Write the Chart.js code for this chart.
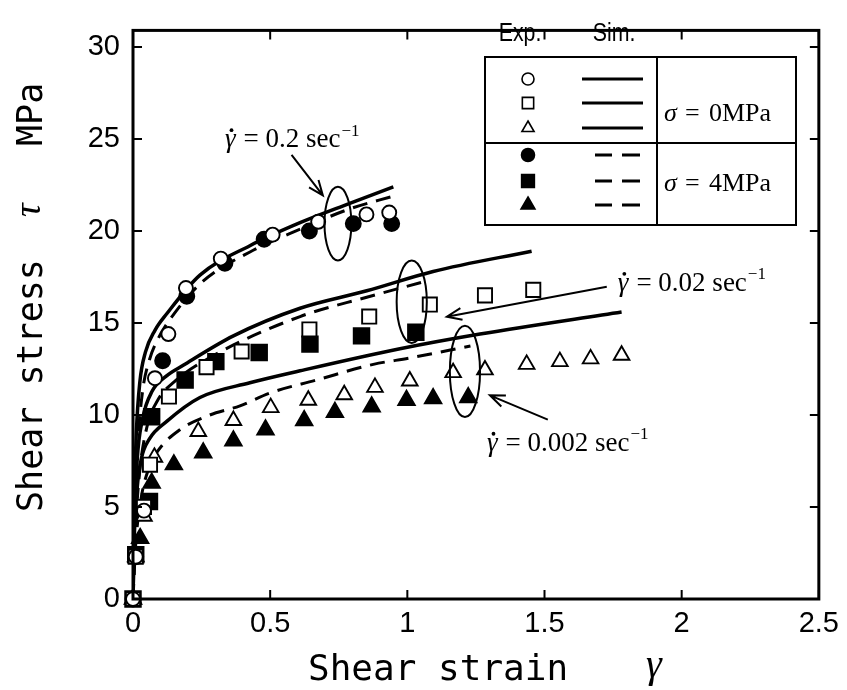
<!DOCTYPE html>
<html>
<head>
<meta charset="utf-8">
<script src="https://cdn.jsdelivr.net/npm/chart.js@4.4.0/dist/chart.umd.min.js"></script>
<style>
  html, body { margin: 0; padding: 0; background: #fff; }
</style>
</head>
<body>
<canvas id="chart" width="847" height="690"></canvas>
<script>
// experiments: [shear strain, shear stress MPa]
// sigma = 0 MPa (open symbols)
const expCircleOpen = [[0, 0], [0.01, 2.3], [0.04, 4.8], [0.08, 12.0], [0.129, 14.4], [0.193, 16.9], [0.32, 18.5], [0.509, 19.8], [0.675, 20.5], [0.851, 20.9], [0.934, 21.0]];
const expSquareOpen = [[0, 0], [0.01, 2.3], [0.04, 5.0], [0.062, 7.3], [0.131, 11.0], [0.268, 12.6], [0.396, 13.45], [0.643, 14.65], [0.861, 15.35], [1.082, 16.0], [1.283, 16.5], [1.459, 16.8]];
const expTriangleOpen = [[0, 0], [0.01, 2.3], [0.04, 4.5], [0.078, 7.7], [0.238, 9.1], [0.366, 9.7], [0.502, 10.4], [0.639, 10.8], [0.77, 11.1], [0.882, 11.5], [1.009, 11.85], [1.167, 12.3], [1.283, 12.45], [1.435, 12.75], [1.556, 12.9], [1.668, 13.05], [1.781, 13.25]];
// sigma = 4 MPa (filled symbols)
const expCircleFilled = [[0, 0], [0.01, 2.3], [0.04, 5.0], [0.108, 12.95], [0.196, 16.45], [0.335, 18.25], [0.478, 19.55], [0.643, 20.0], [0.803, 20.4], [0.943, 20.4]];
const expSquareFilled = [[0, 0], [0.01, 2.4], [0.06, 5.3], [0.068, 9.9], [0.19, 11.9], [0.302, 12.9], [0.46, 13.4], [0.645, 13.85], [0.833, 14.3], [1.031, 14.5]];
const expTriangleFilled = [[0, 0], [0.026, 3.3], [0.068, 6.3], [0.149, 7.3], [0.256, 7.95], [0.366, 8.6], [0.483, 9.2], [0.624, 9.7], [0.736, 10.15], [0.87, 10.45], [0.997, 10.8], [1.094, 10.9], [1.222, 10.95]];

// simulations, one curve per strain rate
const simSolid02 = [[0, 0], [0.005, 5.5], [0.012, 9.0], [0.025, 11.8], [0.045, 13.4], [0.08, 14.6], [0.123, 15.5], [0.244, 17.6], [0.426, 19.2], [0.609, 20.45], [0.79, 21.5], [0.949, 22.4]];
const simSolid002 = [[0, 0], [0.005, 4.0], [0.015, 7.5], [0.035, 9.8], [0.07, 11.3], [0.12, 12.1], [0.183, 12.7], [0.366, 14.3], [0.609, 15.8], [0.852, 16.75], [1.094, 17.8], [1.453, 18.9]];
const simSolid0002 = [[0, 0], [0.005, 3.5], [0.015, 6.0], [0.03, 7.6], [0.06, 8.7], [0.123, 9.65], [0.244, 10.95], [0.426, 11.75], [0.609, 12.4], [0.973, 13.6], [1.265, 14.4], [1.781, 15.6]];
const simDashed02 = [[0, 0], [0.008, 5.0], [0.018, 8.5], [0.035, 11.3], [0.06, 13.0], [0.09, 14.1], [0.14, 15.3], [0.25, 17.2], [0.438, 18.95], [0.61, 20.1], [0.79, 21.2], [0.95, 21.9]];
const simDashed002 = [[0, 0], [0.01, 4.0], [0.025, 7.0], [0.05, 9.3], [0.09, 10.8], [0.15, 11.8], [0.29, 13.2], [0.609, 15.35], [0.852, 16.4], [1.05, 17.2]];
const simDashed0002 = [[0, 0], [0.01, 3.0], [0.03, 5.5], [0.055, 7.0], [0.086, 7.95], [0.171, 9.2], [0.28, 10.0], [0.39, 10.5], [0.5, 11.2], [0.669, 11.9], [0.876, 12.75], [1.01, 13.1], [1.23, 13.75]];

const xTicks = [0, 0.5, 1, 1.5, 2, 2.5];
const yTicks = [0, 5, 10, 15, 20, 25, 30];

// strain-rate notes: label start, arrow tail/head and circled group (data units)
const rateNotes = [
    { text: '0.2', label: [0.335, 24.57], from: [0.578, 24.14], to: [0.692, 21.93], ring: [0.747, 20.4, 0.049, 2.0] },
    { text: '0.02', label: [1.767, 16.76], from: [1.727, 16.97], to: [1.144, 15.34], ring: [1.016, 16.15, 0.055, 2.24] },
    { text: '0.002', label: [1.29, 8.07], from: [1.512, 9.75], to: [1.301, 11.07], ring: [1.21, 12.37, 0.055, 2.48] }
];

const toPts = arr => arr.map(p => ({ x: p[0], y: p[1] }));

function marker(data, style, filled, radius) {
    return {
        data: toPts(data),
        showLine: false,
        pointStyle: style,
        pointRadius: radius,
        pointHoverRadius: radius,
        pointBorderWidth: 1.9,
        pointBorderColor: '#000',
        pointBackgroundColor: filled ? '#000' : '#fff',
        clip: false,
        order: 1
    };
}

function simLine(data, dashed) {
    return {
        data: toPts(data),
        showLine: true,
        borderColor: '#000',
        borderWidth: dashed ? 3 : 3.5,
        borderDash: dashed ? [15, 9] : [],
        pointRadius: 0,
        cubicInterpolationMode: 'monotone',
        order: 2
    };
}

const serif = '"Liberation Serif", "Times New Roman", serif';
const mono = '"DejaVu Sans Mono", monospace';
const sans = '"Liberation Sans", Arial, sans-serif';

function drawRate(ctx, x, y, value) {
    const size = 27;
    ctx.fillStyle = '#000';
    ctx.textAlign = 'left';
    ctx.textBaseline = 'alphabetic';
    ctx.font = `italic ${size}px ${serif}`;
    ctx.fillText('γ', x, y);
    const gw = ctx.measureText('γ').width;
    ctx.beginPath();
    ctx.arc(x + gw * 0.62, y - size * 0.62, 1.9, 0, Math.PI * 2);
    ctx.fill();
    let cx = x + gw + 8;
    ctx.font = `${size}px ${serif}`;
    const txt = '= ' + value + ' sec';
    ctx.fillText(txt, cx, y);
    cx += ctx.measureText(txt).width;
    ctx.font = `${Math.round(size * 0.62)}px ${serif}`;
    ctx.fillText('−1', cx + 1, y - size * 0.42);
}

function drawArrow(ctx, x1, y1, x2, y2) {
    const a = Math.atan2(y2 - y1, x2 - x1);
    const len = 16, spread = 0.38;
    ctx.beginPath();
    ctx.moveTo(x1, y1);
    ctx.lineTo(x2, y2);
    ctx.moveTo(x2 - len * Math.cos(a - spread), y2 - len * Math.sin(a - spread));
    ctx.lineTo(x2, y2);
    ctx.lineTo(x2 - len * Math.cos(a + spread), y2 - len * Math.sin(a + spread));
    ctx.stroke();
}

// frame, inward ticks, axis titles
const framePlugin = {
    id: 'frame',
    afterDatasetsDraw(chart) {
        const { ctx, chartArea: a, scales } = chart;
        ctx.save();
        ctx.strokeStyle = '#000';
        ctx.lineWidth = 3;
        ctx.strokeRect(a.left, a.top, a.right - a.left, a.bottom - a.top);
        ctx.lineWidth = 2;
        const tl = 9;
        ctx.beginPath();
        xTicks.forEach(v => {
            const px = scales.x.getPixelForValue(v);
            ctx.moveTo(px, a.bottom); ctx.lineTo(px, a.bottom - tl);
            ctx.moveTo(px, a.top); ctx.lineTo(px, a.top + tl);
        });
        yTicks.forEach(v => {
            const py = scales.y.getPixelForValue(v);
            ctx.moveTo(a.left, py); ctx.lineTo(a.left + tl, py);
            ctx.moveTo(a.right, py); ctx.lineTo(a.right - tl, py);
        });
        ctx.stroke();

        // axis titles
        ctx.fillStyle = '#000';
        ctx.textBaseline = 'alphabetic';
        ctx.textAlign = 'left';
        ctx.font = `36px ${mono}`;
        ctx.fillText('Shear strain', 308, 680);
        ctx.font = `italic 40px ${serif}`;
        ctx.fillText('γ', 646, 677);

        ctx.save();
        ctx.translate(42, 512);
        ctx.rotate(-Math.PI / 2);
        ctx.font = `35px ${mono}`;
        ctx.fillText('Shear stress', 0, 0);
        ctx.fillText('MPa', 366, 0);
        ctx.font = `italic 38px ${serif}`;
        ctx.fillText('τ', 295, -2);
        ctx.restore();
        ctx.restore();
    }
};

// rate notes: circled groups with arrows and labels
const notesPlugin = {
    id: 'notes',
    afterDatasetsDraw(chart) {
        const { ctx, scales: { x, y } } = chart;
        ctx.save();
        ctx.strokeStyle = '#000';
        ctx.lineWidth = 2;
        rateNotes.forEach(n => {
            const cx = x.getPixelForValue(n.ring[0]);
            const cy = y.getPixelForValue(n.ring[1]);
            const rx = x.getPixelForValue(n.ring[0] + n.ring[2]) - cx;
            const ry = cy - y.getPixelForValue(n.ring[1] + n.ring[3]);
            ctx.beginPath();
            ctx.ellipse(cx, cy, rx, ry, 0, 0, Math.PI * 2);
            ctx.stroke();
            drawArrow(ctx, x.getPixelForValue(n.from[0]), y.getPixelForValue(n.from[1]),
                x.getPixelForValue(n.to[0]), y.getPixelForValue(n.to[1]));
            drawRate(ctx, x.getPixelForValue(n.label[0]), y.getPixelForValue(n.label[1]), n.text);
        });
        ctx.restore();
    }
};

// boxed key: Exp. symbols, Sim. lines, confining stress
const keyPlugin = {
    id: 'key',
    afterDraw(chart) {
        const ctx = chart.ctx;
        const L = 485, R = 796, T = 57, B = 225, mid = 657, split = 143;
        ctx.save();
        ctx.fillStyle = '#fff';
        ctx.fillRect(L, T, R - L, B - T);
        ctx.strokeStyle = '#000';
        ctx.lineWidth = 2;
        ctx.strokeRect(L, T, R - L, B - T);
        ctx.beginPath();
        ctx.moveTo(mid, T); ctx.lineTo(mid, B);
        ctx.moveTo(L, split); ctx.lineTo(R, split);
        ctx.stroke();

        ctx.fillStyle = '#000';
        ctx.textAlign = 'center';
        ctx.textBaseline = 'middle';
        ctx.save();
        ctx.scale(0.82, 1);
        ctx.font = `26px ${sans}`;
        ctx.fillText('Exp.', 520 / 0.82, 34);
        ctx.fillText('Sim.', 614 / 0.82, 34);
        ctx.restore();

        const rows = [
            { y: 79, style: 'circle', filled: false, r: 6, dashed: false },
            { y: 103, style: 'rect', filled: false, r: 8, dashed: false },
            { y: 128, style: 'triangle', filled: false, r: 7, dashed: false },
            { y: 155, style: 'circle', filled: true, r: 6.5, dashed: true },
            { y: 181, style: 'rect', filled: true, r: 9, dashed: true },
            { y: 205, style: 'triangle', filled: true, r: 8, dashed: true }
        ];
        rows.forEach(row => {
            ctx.fillStyle = row.filled ? '#000' : '#fff';
            ctx.strokeStyle = '#000';
            ctx.lineWidth = 1.6;
            Chart.helpers.drawPoint(ctx, { pointStyle: row.style, radius: row.r, borderWidth: 1.6, rotation: 0 }, 528, row.y);
            ctx.lineWidth = 3;
            ctx.beginPath();
            if (row.dashed) {
                ctx.moveTo(595, row.y); ctx.lineTo(612, row.y);
                ctx.moveTo(622, row.y); ctx.lineTo(640, row.y);
            } else {
                ctx.moveTo(582, row.y); ctx.lineTo(643, row.y);
            }
            ctx.stroke();
        });

        ctx.fillStyle = '#000';
        ctx.textAlign = 'left';
        ctx.textBaseline = 'alphabetic';
        [['0MPa', 121], ['4MPa', 191]].forEach(([t, by]) => {
            ctx.font = `italic 26px ${serif}`;
            ctx.fillText('σ', 664, by);
            ctx.font = `26px ${serif}`;
            ctx.fillText('=', 685, by);
            ctx.fillText(t, 709, by);
        });
        ctx.restore();
    }
};

const tickFont = { family: sans, size: 29 };

new Chart(document.getElementById('chart'), {
    type: 'scatter',
    data: {
        datasets: [
            marker(expCircleOpen, 'circle', false, 7),
            marker(expSquareOpen, 'rect', false, 10),
            marker(expTriangleOpen, 'triangle', false, 9),
            marker(expCircleFilled, 'circle', true, 7.5),
            marker(expSquareFilled, 'rect', true, 11),
            marker(expTriangleFilled, 'triangle', true, 9.5),
            simLine(simSolid02, false),
            simLine(simSolid002, false),
            simLine(simSolid0002, false),
            simLine(simDashed02, true),
            simLine(simDashed002, true),
            simLine(simDashed0002, true)
        ]
    },
    options: {
        responsive: false,
        animation: false,
        layout: { padding: { top: 12, right: 28, left: 0, bottom: 0 } },
        plugins: { legend: { display: false }, tooltip: { enabled: false } },
        scales: {
            x: {
                type: 'linear',
                min: 0,
                max: 2.5,
                afterFit: s => { s.height = 91; },
                afterBuildTicks: s => { s.ticks = xTicks.map(v => ({ value: v })); },
                grid: { display: false, drawTicks: false },
                border: { display: false },
                ticks: {
                    autoSkip: false,
                    padding: 8,
                    color: '#000',
                    font: tickFont,
                    callback: v => String(v)
                }
            },
            y: {
                type: 'linear',
                min: 0,
                max: 30.9,
                afterFit: s => { s.width = 133; },
                afterBuildTicks: s => { s.ticks = yTicks.map(v => ({ value: v })); },
                grid: { display: false, drawTicks: false },
                border: { display: false },
                ticks: {
                    autoSkip: false,
                    padding: 13,
                    color: '#000',
                    font: tickFont,
                    callback: v => String(v)
                }
            }
        }
    },
    plugins: [framePlugin, notesPlugin, keyPlugin]
});
</script>
</body>
</html>
